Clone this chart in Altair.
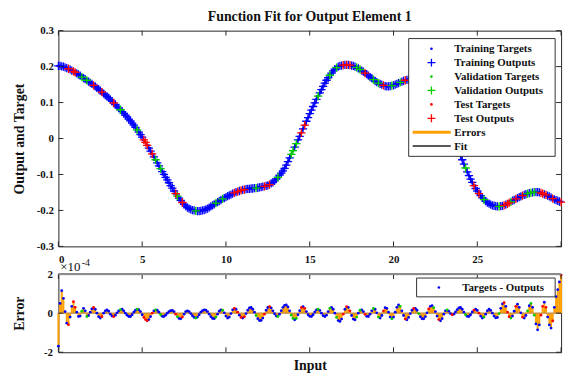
import altair as alt
import pandas as pd

# ---------------- data ----------------
x_start, x_step = 0.0, 0.1

target = [
    0.202, 0.202, 0.201, 0.200, 0.198, 0.196, 0.194, 0.192, 0.189, 0.187,
    0.184, 0.181, 0.178, 0.175, 0.171, 0.168, 0.165, 0.162, 0.158, 0.155,
    0.152, 0.148, 0.145, 0.141, 0.137, 0.133, 0.129, 0.125, 0.121, 0.117,
    0.113, 0.108, 0.104, 0.099, 0.094, 0.089, 0.085, 0.080, 0.075, 0.070,
    0.065, 0.060, 0.054, 0.049, 0.043, 0.037, 0.031, 0.024, 0.018, 0.011,
    0.004, -0.004, -0.011, -0.019, -0.027, -0.035, -0.043, -0.051, -0.059, -0.068,
    -0.076, -0.084, -0.092, -0.100, -0.108, -0.115, -0.123, -0.131, -0.138, -0.146,
    -0.153, -0.160, -0.166, -0.172, -0.178, -0.183, -0.188, -0.192, -0.195, -0.197,
    -0.199, -0.200, -0.201, -0.202, -0.202, -0.201, -0.200, -0.199, -0.197, -0.195,
    -0.192, -0.189, -0.186, -0.183, -0.180, -0.177, -0.174, -0.171, -0.168, -0.166,
    -0.163, -0.160, -0.158, -0.156, -0.153, -0.151, -0.149, -0.148, -0.146, -0.144,
    -0.143, -0.142, -0.141, -0.140, -0.140, -0.139, -0.139, -0.138, -0.138, -0.137,
    -0.136, -0.135, -0.134, -0.133, -0.132, -0.130, -0.128, -0.125, -0.122, -0.118,
    -0.113, -0.108, -0.102, -0.096, -0.090, -0.083, -0.074, -0.064, -0.054, -0.044,
    -0.034, -0.024, -0.014, -0.004, 0.006, 0.016, 0.027, 0.037, 0.048, 0.058,
    0.069, 0.079, 0.089, 0.099, 0.109, 0.118, 0.127, 0.136, 0.145, 0.154,
    0.162, 0.169, 0.176, 0.182, 0.188, 0.193, 0.197, 0.200, 0.202, 0.203,
    0.204, 0.205, 0.205, 0.205, 0.204, 0.203, 0.202, 0.200, 0.198, 0.195,
    0.192, 0.189, 0.186, 0.182, 0.179, 0.175, 0.171, 0.168, 0.164, 0.160,
    0.157, 0.154, 0.152, 0.150, 0.148, 0.146, 0.145, 0.145, 0.146, 0.147,
    0.148, 0.150, 0.152, 0.154, 0.156, 0.158, 0.160, 0.162, 0.163, 0.164,
    0.165, 0.166, 0.166, 0.165, 0.164, 0.163, 0.161, 0.159, 0.156, 0.153,
    0.150, 0.146, 0.141, 0.135, 0.129, 0.122, 0.114, 0.106, 0.097, 0.088,
    0.078, 0.067, 0.055, 0.043, 0.031, 0.018, 0.005, -0.008, -0.021, -0.034,
    -0.047, -0.059, -0.071, -0.082, -0.093, -0.103, -0.113, -0.122, -0.131, -0.139,
    -0.146, -0.153, -0.159, -0.165, -0.170, -0.174, -0.178, -0.181, -0.184, -0.186,
    -0.187, -0.188, -0.189, -0.189, -0.188, -0.187, -0.186, -0.184, -0.182, -0.179,
    -0.176, -0.173, -0.171, -0.168, -0.166, -0.163, -0.161, -0.159, -0.157, -0.155,
    -0.153, -0.152, -0.151, -0.150, -0.149, -0.149, -0.149, -0.150, -0.151, -0.153,
    -0.155, -0.157, -0.159, -0.161, -0.164, -0.167, -0.169, -0.171, -0.173, -0.175,
    -0.177,
]

# Targets - Outputs, in units of 1e-4
error_e4 = [
    -1.69, 0.50, 1.15, 0.76, 0.08, -0.51, -0.59, -0.20, 0.35, 0.59,
    0.30, 0.05, -0.17, -0.15, 0.10, 0.25, 0.12, -0.17, -0.12, 0.05,
    0.22, 0.29, 0.20, 0.00, -0.18, -0.25, -0.18, 0.00, 0.12, 0.17,
    0.10, -0.05, -0.15, -0.17, -0.10, 0.02, 0.12, 0.18, 0.20, 0.12,
    0.00, -0.10, -0.17, -0.17, -0.08, 0.05, 0.15, 0.20, 0.18, 0.08,
    -0.08, -0.22, -0.33, -0.39, -0.33, -0.18, 0.00, 0.12, 0.17, 0.15,
    0.05, -0.08, -0.16, -0.17, -0.10, 0.00, 0.08, 0.13, 0.14, 0.08,
    -0.05, -0.18, -0.27, -0.29, -0.20, -0.05, 0.08, 0.12, 0.08, -0.02,
    -0.13, -0.22, -0.25, -0.20, -0.08, 0.05, 0.13, 0.17, 0.16, 0.08,
    -0.05, -0.18, -0.27, -0.28, -0.20, -0.05, 0.10, 0.17, 0.15, 0.02,
    -0.15, -0.25, -0.20, -0.02, 0.17, 0.25, 0.20, 0.05, -0.10, -0.22,
    -0.25, -0.18, -0.02, 0.15, 0.27, 0.29, 0.20, 0.05, -0.12, -0.28,
    -0.38, -0.37, -0.25, -0.05, 0.15, 0.29, 0.34, 0.27, 0.12, -0.03,
    -0.15, -0.17, -0.05, 0.13, 0.30, 0.40, 0.42, 0.32, 0.12, -0.10,
    -0.27, -0.34, -0.27, -0.08, 0.13, 0.29, 0.34, 0.25, 0.08, -0.08,
    -0.16, -0.17, -0.08, 0.06, 0.17, 0.20, 0.14, 0.00, -0.13, -0.17,
    -0.10, 0.08, 0.25, 0.30, 0.20, 0.00, -0.22, -0.38, -0.42, -0.30,
    -0.05, 0.20, 0.34, 0.30, 0.12, -0.12, -0.30, -0.34, -0.20, 0.00,
    0.15, 0.17, 0.08, -0.06, -0.16, -0.17, -0.05, 0.12, 0.24, 0.20,
    0.02, -0.20, -0.25, -0.12, 0.12, 0.28, 0.25, 0.05, -0.20, -0.29,
    -0.20, 0.05, 0.30, 0.42, 0.35, 0.12, -0.12, -0.30, -0.34, -0.22,
    -0.02, 0.15, 0.24, 0.25, 0.15, -0.02, -0.18, -0.28, -0.29, -0.18,
    0.02, 0.22, 0.35, 0.39, 0.28, 0.08, -0.15, -0.33, -0.39, -0.28,
    -0.05, 0.12, 0.17, 0.10, -0.02, -0.08, -0.05, 0.06, 0.18, 0.27,
    0.29, 0.20, 0.05, -0.08, -0.16, -0.17, -0.08, 0.06, 0.16, 0.20,
    0.14, 0.00, -0.15, -0.25, -0.20, -0.05, 0.12, 0.20, 0.14, 0.00,
    -0.15, -0.24, -0.22, -0.02, 0.25, 0.48, 0.54, 0.35, 0.05, -0.18,
    -0.25, -0.15, 0.10, 0.35, 0.46, 0.30, 0.02, -0.20, -0.25, -0.12,
    0.12, 0.38, 0.50, 0.30, -0.10, -0.55, -0.85, -0.60, -0.10, 0.35,
    0.56, 0.30, -0.20, -0.60, -0.76, -0.40, 0.30, 0.85, 1.20, 1.60,
    1.95,
]

# T = training, V = validation, S = test
subset_codes = (
    "TTTTTTSTTS" "STTTVTTVTT" "TSTTTTSTTT" "TTTSTTTVTT" "TTTTTTTVTT"
    "TSSSTTSTVT" "TVTTTTTTTT" "SVTTSTTTTT" "TTVTTTTTTT" "TTTTVTTTVT"
    "TTTTTSTSTS" "TSTTTTTTVT" "TTTSTTSTTT" "TVTTTTTTTV" "VTVTTSTSTT"
    "TTTTTVTTTT" "TTVTTTVTTT" "STSTSTTTVT" "VTTSTTTTVT" "TVTTSTTTTV"
    "TTTTVTTSTT" "TTSTTVTTTT" "TSTTVTTSTT" "TTVTTSTTTT" "TTTVTTTTST"
    "TSTTVTTTTT" "TTTVTTSTSS" "VTTSTTTSTT" "VTVTVTTTSS" "TSTTTSTTTT"
    "S"
)

subset_names = {"T": "Training", "V": "Validation", "S": "Test"}
subset_order = ["Training", "Validation", "Test"]
subset_colors = ["#0000FF", "#00CC00", "#FF0000"]

x_ticks = [0, 5, 10, 15, 20, 25, 30]
y_ticks_fit = [-0.3, -0.2, -0.1, 0.0, 0.1, 0.2, 0.3]
y_ticks_err = [-2, 0, 2]

legend_labels = ["Training Targets", "Training Outputs", "Validation Targets",
                 "Validation Outputs", "Test Targets", "Test Outputs", "Errors", "Fit"]
legend_kinds = ["dot", "plus", "dot", "plus", "dot", "plus", "line", "line"]
legend_colors = ["#0000FF", "#0000FF", "#00CC00", "#00CC00", "#FF0000", "#FF0000",
                 "#FFA000", "#222222"]

# ---------------- build table ----------------
n = len(target)
rows = []
for i in range(n):
    rows.append({
        "x": round(x_start + i * x_step, 1),
        "target": target[i],
        "output": target[i] - error_e4[i] * 1e-4,
        "err": error_e4[i],
        "subset": subset_names[subset_codes[i]],
        "rank": subset_order.index(subset_names[subset_codes[i]]),
    })
df = pd.DataFrame(rows).sort_values(["rank", "x"]).reset_index(drop=True)
df_line = pd.DataFrame(rows)

FONT = "Liberation Serif"
W, H1, H2 = 508, 218, 79
ORANGE = "#FFA000"
BOX = "#262626"
PLUS = "M-1,0H1M0,-1V1"

xscale = alt.Scale(domain=[0, 30], nice=False, zero=False)
color = alt.Color("subset:N", scale=alt.Scale(domain=subset_order, range=subset_colors), legend=None)

x_axis_top = alt.Axis(values=x_ticks, ticks=False, domain=False, grid=False, title=None,
                      labelFont=FONT, labelFontWeight="bold", labelFontSize=11,
                      labelPadding=7, labelColor="#111",
                      labelExpr="datum.value == 30 ? '' : datum.label")
x_axis_bot = alt.Axis(values=x_ticks, ticks=False, domain=False, grid=False, labels=False,
                      title="Input", titleFont=FONT, titleFontWeight="bold", titleFontSize=14,
                      titleX=W / 2, titleY=17, titleBaseline="alphabetic", titleColor="#111")

fmt_expr = ("datum.value == 0 ? '0' : (datum.value < 0 ? '-' : '') + "
            "format(abs(datum.value), '.1f')")
y_axis_top = alt.Axis(values=y_ticks_fit, ticks=False, domain=False, grid=False,
                      labelExpr=fmt_expr, labelFont=FONT, labelFontWeight="bold",
                      labelFontSize=11, labelPadding=5, labelColor="#111",
                      title="Output and Target", titleFont=FONT, titleFontWeight="bold",
                      titleFontSize=14, titleX=-39, titleY=H1 / 2, titleAngle=-90,
                      titleAlign="center", titleBaseline="middle", titleColor="#111")
y_axis_bot = alt.Axis(values=y_ticks_err, ticks=False, domain=False, grid=False,
                      labelExpr="datum.value < 0 ? '-' + format(abs(datum.value), 'd') : format(datum.value, 'd')",
                      labelFont=FONT, labelFontWeight="bold", labelFontSize=11,
                      labelPadding=6, labelColor="#111",
                      title="Error", titleFont=FONT, titleFontWeight="bold",
                      titleFontSize=14, titleX=-39, titleY=H2 / 2, titleAngle=-90,
                      titleAlign="center", titleBaseline="middle", titleColor="#111")

yscale_top = alt.Scale(domain=[-0.3, 0.3], nice=False, zero=False)
yscale_bot = alt.Scale(domain=[-2, 2], nice=False, zero=False)

X_top = alt.X("x:Q", scale=xscale, axis=x_axis_top)
X_bot = alt.X("x:Q", scale=xscale, axis=x_axis_bot)

# ---------------- top panel ----------------
fit_line = alt.Chart(df_line).mark_line(color="#111", strokeWidth=1).encode(
    x=X_top, y=alt.Y("output:Q", scale=yscale_top, axis=y_axis_top))
targets = alt.Chart(df).mark_circle(size=7, opacity=1).encode(
    x=X_top, y=alt.Y("target:Q", scale=yscale_top, axis=y_axis_top), color=color)
outputs = alt.Chart(df).mark_point(shape=PLUS, size=70, filled=False, strokeWidth=1.3,
                                   opacity=1).encode(
    x=X_top, y=alt.Y("output:Q", scale=yscale_top, axis=y_axis_top), color=color)

xt_df = pd.DataFrame({"x": x_ticks})
yt_df = pd.DataFrame({"yt": y_ticks_fit})
tick_style = dict(color=BOX, strokeWidth=1)
top_ticks = [
    alt.Chart(xt_df).mark_rule(**tick_style).encode(x=X_top, y=alt.value(H1), y2=alt.value(H1 - 5)),
    alt.Chart(xt_df).mark_rule(**tick_style).encode(x=X_top, y=alt.value(0), y2=alt.value(5)),
    alt.Chart(yt_df).mark_rule(**tick_style).encode(
        y=alt.Y("yt:Q", scale=yscale_top, axis=y_axis_top), x=alt.value(0), x2=alt.value(5)),
    alt.Chart(yt_df).mark_rule(**tick_style).encode(
        y=alt.Y("yt:Q", scale=yscale_top, axis=y_axis_top), x=alt.value(W), x2=alt.value(W - 5)),
]

one = pd.DataFrame({"k": [0]})
top_legend = [alt.Chart(one).mark_rect(fill="white", stroke="#333", strokeWidth=1).encode(
    x=alt.value(354), x2=alt.value(502), y=alt.value(8), y2=alt.value(127))]
for i, (lab, kind, col) in enumerate(zip(legend_labels, legend_kinds, legend_colors)):
    py = 18.3 + i * 14.05
    if kind == "dot":
        top_legend.append(alt.Chart(one).mark_circle(size=7, color=col, opacity=1).encode(
            x=alt.value(377), y=alt.value(py)))
    elif kind == "plus":
        top_legend.append(alt.Chart(one).mark_point(shape=PLUS, size=64, filled=False,
                                                    strokeWidth=1.3, color=col, opacity=1).encode(
            x=alt.value(377), y=alt.value(py)))
    else:
        top_legend.append(alt.Chart(one).mark_rule(color=col, strokeWidth=3 if lab == "Errors" else 1.5).encode(
            x=alt.value(358), x2=alt.value(396.5), y=alt.value(py)))
    top_legend.append(alt.Chart(pd.DataFrame({"t": [lab]})).mark_text(
        font=FONT, fontWeight="bold", fontSize=11, align="left", baseline="middle",
        color="#111").encode(text="t:N", x=alt.value(400), y=alt.value(py + 0.5)))

top = alt.layer(fit_line, targets, outputs, *top_ticks, *top_legend).properties(
    width=W, height=H1,
    title=alt.TitleParams("Function Fit for Output Element 1", font=FONT, fontSize=14,
                          fontWeight="bold", offset=1, color="#111"))

# ---------------- bottom panel ----------------
Y_err = alt.Y("err:Q", scale=yscale_bot, axis=y_axis_bot)
stems = alt.Chart(df_line).mark_rule(color=ORANGE, strokeWidth=2).encode(
    x=X_bot, y=Y_err, y2=alt.datum(0))
zero_line = alt.Chart(one).mark_rule(color="#C08A40", strokeWidth=1.2).encode(
    y=alt.datum(0, scale=yscale_bot, axis=y_axis_bot), x=alt.value(0), x2=alt.value(W))
err_dots = alt.Chart(df).mark_circle(size=8, opacity=1).encode(x=X_bot, y=Y_err, color=color)

yte_df = pd.DataFrame({"ye": y_ticks_err})
bot_ticks = [
    alt.Chart(xt_df).mark_rule(**tick_style).encode(x=X_bot, y=alt.value(H2), y2=alt.value(H2 - 5)),
    alt.Chart(xt_df).mark_rule(**tick_style).encode(x=X_bot, y=alt.value(0), y2=alt.value(5)),
    alt.Chart(yte_df).mark_rule(**tick_style).encode(
        y=alt.Y("ye:Q", scale=yscale_bot, axis=y_axis_bot), x=alt.value(0), x2=alt.value(5)),
    alt.Chart(yte_df).mark_rule(**tick_style).encode(
        y=alt.Y("ye:Q", scale=yscale_bot, axis=y_axis_bot), x=alt.value(W), x2=alt.value(W - 5)),
    alt.Chart(one).mark_rule(color="#8c8c8c", strokeWidth=2).encode(
        x=alt.value(0), x2=alt.value(W), y=alt.value(0)),
]

exp_label = [
    alt.Chart(pd.DataFrame({"t": ["×10"]})).mark_text(
        font=FONT, fontSize=13, align="left", baseline="alphabetic", color="#111").encode(
        text="t:N", x=alt.value(2), y=alt.value(-3)),
    alt.Chart(pd.DataFrame({"t": ["-4"]})).mark_text(
        font=FONT, fontSize=10, align="left", baseline="alphabetic", color="#111").encode(
        text="t:N", x=alt.value(23.5), y=alt.value(-8)),
]

bot_legend = [
    alt.Chart(one).mark_rect(fill="white", stroke="#333", strokeWidth=1).encode(
        x=alt.value(362), x2=alt.value(502), y=alt.value(4), y2=alt.value(23)),
    alt.Chart(one).mark_circle(size=7, color="#0000FF", opacity=1).encode(
        x=alt.value(384.5), y=alt.value(13.6)),
    alt.Chart(pd.DataFrame({"t": ["Targets - Outputs"]})).mark_text(
        font=FONT, fontWeight="bold", fontSize=11, align="left", baseline="middle",
        color="#111").encode(text="t:N", x=alt.value(408), y=alt.value(14)),
]

bottom = alt.layer(stems, zero_line, err_dots, *bot_ticks, *exp_label, *bot_legend).properties(
    width=W, height=H2)

chart = alt.vconcat(top, bottom, spacing=28, bounds="flush").configure_view(
    stroke=BOX, strokeWidth=1).properties(
    autosize=alt.AutoSizeParams(type="pad"),
    padding={"left": 12, "top": 7, "right": 0, "bottom": 0},
    background="white")

chart.save("out.html", embed_options={"renderer": "svg", "actions": False})
